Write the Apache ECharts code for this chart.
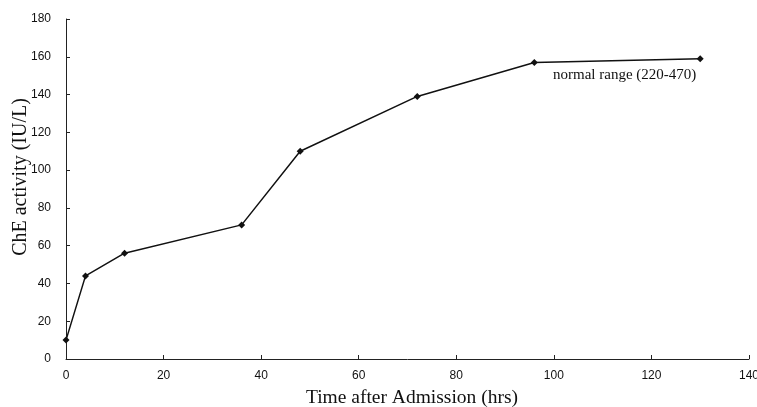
<!DOCTYPE html>
<html><head><meta charset="utf-8">
<script src="https://cdn.jsdelivr.net/npm/echarts@6/dist/echarts.min.js"></script>
<style>html,body{margin:0;padding:0;background:#fff}#c{width:757px;height:407px}</style>
</head><body><div id="c"></div>
<script>
const hours = [0, 4, 12, 36, 48, 72, 96, 130];
const cheActivity = [10, 44, 56, 71, 110, 139, 157, 159];
const annotation = 'normal range (220-470)';
const xTitle = 'Time after Admission (hrs)';
const yTitle = 'ChE activity (IU/L)';

const chart = echarts.init(document.getElementById('c'), null, {renderer: 'canvas'});
const tickFont = '"Liberation Sans Narrow", "Arial Narrow", "Liberation Sans", sans-serif';
const serif = '"Liberation Serif", "Times New Roman", serif';
chart.setOption({
  animation: false,
  backgroundColor: '#fff',
  grid: {left: 66, right: 8, top: 19, bottom: 48, containLabel: false, outerBoundsMode: 'none'},
  xAxis: {
    type: 'value', min: 0, max: 140, interval: 20,
    axisLine: {onZero: false, lineStyle: {color: '#222', width: 1}},
    axisTick: {inside: true, length: 4, lineStyle: {color: '#222'}},
    axisLabel: {fontFamily: tickFont, fontSize: 12, color: '#111', margin: 11},
    splitLine: {show: false}
  },
  yAxis: {
    type: 'value', min: 0, max: 180, interval: 20,
    axisLine: {show: true, lineStyle: {color: '#222', width: 1}},
    axisTick: {show: true, inside: true, length: 4, lineStyle: {color: '#222'}},
    axisLabel: {fontFamily: tickFont, fontSize: 12, color: '#111', margin: 15},
    splitLine: {show: false}
  },
  series: [{
    type: 'line',
    data: hours.map((h, i) => [h, cheActivity[i]]),
    symbol: 'diamond', symbolSize: 7,
    lineStyle: {color: '#111', width: 1.5},
    itemStyle: {color: '#111'}
  }],
  graphic: [{
    type: 'text', left: 553, top: 68,
    style: {text: annotation, font: '15px ' + serif, fill: '#111'}
  }, {
    type: 'text', x: 412, y: 398,
    style: {text: xTitle, font: '19.5px ' + serif, fill: '#111', align: 'center', verticalAlign: 'middle'}
  }, {
    type: 'text', x: 21, y: 177, rotation: Math.PI / 2,
    style: {text: yTitle, font: '20px ' + serif, fill: '#111', align: 'center', verticalAlign: 'middle'}
  }]
});
</script></body></html>
